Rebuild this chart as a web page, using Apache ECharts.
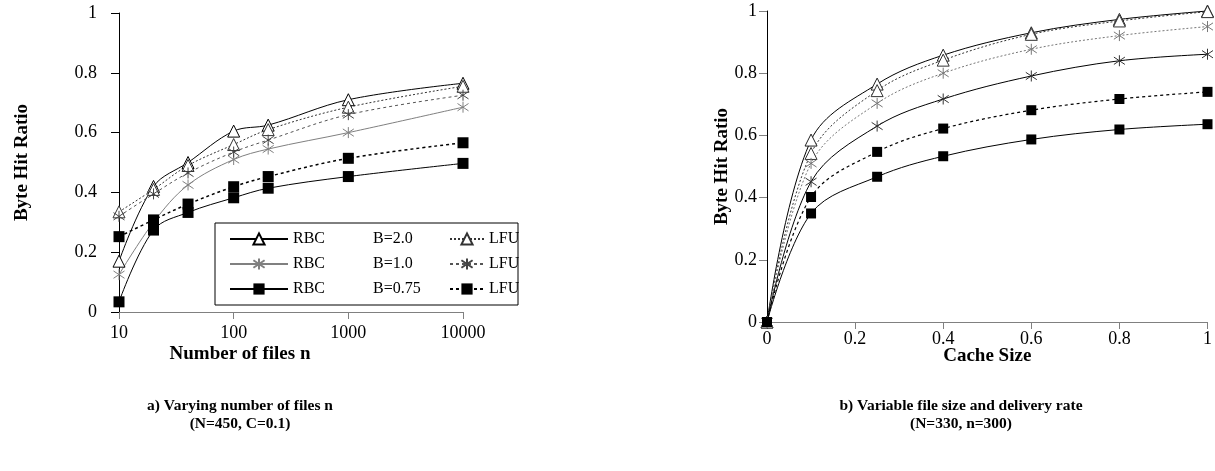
<!DOCTYPE html>
<html>
<head>
<meta charset="utf-8">
<title>Byte Hit Ratio</title>
<script src="https://cdn.jsdelivr.net/npm/echarts@6/dist/echarts.min.js"></script>
<style>
  html, body { margin: 0; padding: 0; background: #fff; }
  #chart { width: 1215px; height: 471px; }
</style>
</head>
<body>
<div id="chart"></div>
<script>
// a) 文件数 n（对数横轴）
const nFiles = [10, 20, 40, 100, 200, 1000, 10000]
const nTicks = [10, 100, 1000, 10000]
const rbcA20 = [0.17, 0.42, 0.50, 0.605, 0.625, 0.71, 0.765]
const rbcA10 = [0.125, 0.30, 0.425, 0.51, 0.545, 0.60, 0.685]
const rbcA075 = [0.034, 0.274, 0.333, 0.382, 0.414, 0.453, 0.497]
const lfuA20 = [0.335, 0.41, 0.49, 0.56, 0.61, 0.685, 0.755]
const lfuA10 = [0.32, 0.395, 0.465, 0.535, 0.575, 0.66, 0.725]
const lfuA075 = [0.252, 0.308, 0.361, 0.419, 0.453, 0.514, 0.566]

// b) 缓存大小
const cacheSize = [0, 0.1, 0.25, 0.4, 0.6, 0.8, 1]
const sizeTicks = [0, 0.2, 0.4, 0.6, 0.8, 1]
const rbcB20 = [0, 0.585, 0.765, 0.858, 0.93, 0.973, 1.0]
const lfuB20 = [0, 0.542, 0.744, 0.842, 0.925, 0.968, 0.998]
const lfuB10 = [0, 0.51, 0.703, 0.80, 0.877, 0.921, 0.95]
const rbcB10 = [0, 0.451, 0.63, 0.717, 0.791, 0.84, 0.861]
const lfuB075 = [0, 0.402, 0.547, 0.622, 0.681, 0.717, 0.74]
const rbcB075 = [0, 0.349, 0.467, 0.533, 0.587, 0.619, 0.636]

const ratioTicks = [0, 0.2, 0.4, 0.6, 0.8, 1]

const font = 'Liberation Serif'
const starPath = 'path://M6,0L6,12M1,2L11,10M1,10L11,2'

const tri = (border) => ({
  symbol: 'triangle', symbolSize: 12,
  itemStyle: { color: '#fff', borderColor: border, borderWidth: 1 }
})
const star = (c) => ({
  symbol: starPath, symbolSize: 11,
  itemStyle: { color: c, borderColor: c, borderWidth: 1 }
})
const square = (s) => ({ symbol: 'rect', symbolSize: s, itemStyle: { color: '#000' } })

const makeSeries = (name, idx, xs, ys, marker, line) => Object.assign({
  name,
  type: 'line',
  xAxisIndex: idx,
  yAxisIndex: idx,
  data: xs.map((x, i) => [x, ys[i]]),
  smooth: 0.35,
  clip: false,
  z: 2,
  lineStyle: Object.assign({ width: 1 }, line),
  emphasis: { disabled: true }
}, marker)

const series = [
  makeSeries('RBC B=2.0', 0, nFiles, rbcA20, tri('#000'), { color: '#000' }),
  makeSeries('RBC B=1.0', 0, nFiles, rbcA10, star('#808080'), { color: '#808080' }),
  makeSeries('LFU B=2.0', 0, nFiles, lfuA20, tri('#333'), { color: '#333', type: [2, 2] }),
  makeSeries('LFU B=1.0', 0, nFiles, lfuA10, star('#444'), { color: '#555', type: [3, 3] }),
  makeSeries('RBC B=0.75', 0, nFiles, rbcA075, square(11), { color: '#000' }),
  makeSeries('LFU B=0.75', 0, nFiles, lfuA075, square(11), { color: '#000', width: 1.5, type: [3, 3] }),

  makeSeries('b RBC B=2.0', 1, cacheSize, rbcB20, tri('#222'), { color: '#000' }),
  makeSeries('b LFU B=2.0', 1, cacheSize, lfuB20, tri('#333'), { color: '#333', type: [2, 2] }),
  makeSeries('b LFU B=1.0', 1, cacheSize, lfuB10, star('#777'), { color: '#777', type: [2, 2] }),
  makeSeries('b RBC B=1.0', 1, cacheSize, rbcB10, star('#333'), { color: '#000' }),
  makeSeries('b LFU B=0.75', 1, cacheSize, lfuB075, square(10), { color: '#000', width: 1.2, type: [3, 3] }),
  makeSeries('b RBC B=0.75', 1, cacheSize, rbcB075, square(10), { color: '#000' })
]

const tickLabel = { fontFamily: font, fontSize: 18, color: '#000' }
const axisName = { fontFamily: font, fontSize: 19, fontWeight: 'bold', color: '#000' }
const caption = { fontFamily: font, fontSize: 15.5, fontWeight: 'bold', lineHeight: 18, color: '#000' }

const yAxisBase = (nameGap, margin, tickColor) => ({
  type: 'value',
  min: ratioTicks[0],
  max: ratioTicks[ratioTicks.length - 1],
  interval: ratioTicks[1] - ratioTicks[0],
  name: 'Byte Hit Ratio',
  nameLocation: 'middle',
  nameGap,
  nameMoveOverlap: false,
  nameTextStyle: axisName,
  axisLine: { show: true, lineStyle: { color: '#000', width: 1 } },
  axisTick: { show: true, length: 8, lineStyle: { color: tickColor } },
  axisLabel: Object.assign({ margin, formatter: v => String(+v.toFixed(1)) }, tickLabel),
  splitLine: { show: false }
})

const option = {
  animation: false,
  backgroundColor: '#fff',
  textStyle: { fontFamily: font },
  title: [
    {
      text: 'a) Varying number of files n\n(N=450, C=0.1)',
      left: 240, top: 397, textAlign: 'center', padding: 0,
      textStyle: caption
    },
    {
      text: 'b) Variable file size and delivery rate\n(N=330, n=300)',
      left: 961, top: 397, textAlign: 'center', padding: 0,
      textStyle: caption
    }
  ],
  legend: [
    {
      data: ['RBC B=2.0', 'RBC B=1.0', 'RBC B=0.75'],
      orient: 'vertical',
      left: 215, top: 223,
      itemWidth: 58, itemHeight: 14, itemGap: 9,
      padding: [8, 0, 8, 14],
      borderColor: '#000', borderWidth: 1,
      selectedMode: false,
      formatter: name => '{a|RBC}{b|' + name.split(' ')[1] + '}',
      textStyle: {
        fontFamily: font, fontSize: 16, color: '#000', lineHeight: 14,
        rich: {
          a: { width: 80, fontFamily: font, fontSize: 16, lineHeight: 14 },
          b: { width: 145, fontFamily: font, fontSize: 16, lineHeight: 14 }
        }
      }
    },
    {
      data: ['LFU B=2.0', 'LFU B=1.0', 'LFU B=0.75'],
      orient: 'vertical',
      left: 449, top: 223,
      itemWidth: 34, itemHeight: 14, itemGap: 9,
      padding: [8, 0, 8, 0],
      selectedMode: false,
      formatter: () => 'LFU',
      textStyle: { fontFamily: font, fontSize: 16, color: '#000', lineHeight: 14 }
    }
  ],
  grid: [
    { left: 119, top: 13, width: 344, height: 299, containLabel: false },
    { left: 767, top: 11, width: 441, height: 311, containLabel: false }
  ],
  xAxis: [
    {
      gridIndex: 0,
      type: 'log',
      logBase: 10,
      min: nTicks[0],
      max: nTicks[nTicks.length - 1],
      name: 'Number of files n',
      nameLocation: 'middle',
      nameGap: 33,
      nameMoveOverlap: false,
      nameTextStyle: Object.assign({ padding: [0, 102, 0, 0] }, axisName),
      axisLine: { lineStyle: { color: '#808080', width: 1 } },
      axisTick: { length: 7, lineStyle: { color: '#808080' } },
      axisLabel: Object.assign({ margin: 12, formatter: v => String(Math.round(v)) }, tickLabel),
      splitLine: { show: false }
    },
    {
      gridIndex: 1,
      type: 'value',
      min: sizeTicks[0],
      max: sizeTicks[sizeTicks.length - 1],
      interval: sizeTicks[1] - sizeTicks[0],
      name: 'Cache Size',
      nameLocation: 'middle',
      nameGap: 25,
      nameMoveOverlap: false,
      nameTextStyle: axisName,
      axisLine: { lineStyle: { color: '#808080', width: 1 } },
      axisTick: { length: 7, lineStyle: { color: '#808080' } },
      axisLabel: Object.assign({ margin: 8, formatter: v => String(+v.toFixed(1)) }, tickLabel),
      splitLine: { show: false }
    }
  ],
  yAxis: [
    Object.assign({ gridIndex: 0 }, yAxisBase(87, 22, '#000')),
    Object.assign({ gridIndex: 1 }, yAxisBase(35, 10, '#808080'))
  ],
  series
}

const chart = echarts.init(document.getElementById('chart'), null, { renderer: 'canvas' })
chart.setOption(option)
</script>
</body>
</html>
